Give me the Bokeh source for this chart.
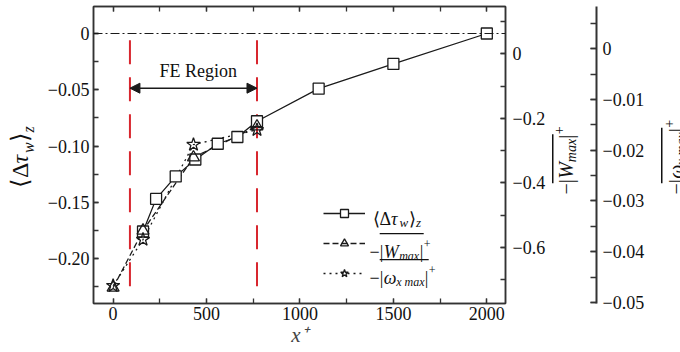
import numpy as np
from bokeh.plotting import figure
from bokeh.layouts import row
from bokeh.models import (Range1d, LinearAxis, SingleIntervalTicker, CustomJSTickFormatter,
                          Span, Arrow, NormalHead, Label, Legend, LegendItem, BoxAnnotation)
from bokeh.embed import file_html
from bokeh.resources import INLINE
from bokeh.core.properties import value

# spanwise-averaged wall shear stress change
x_tau = [160, 230, 335, 440, 560, 665, 770, 1100, 1500, 2000]
tau = [-0.176, -0.147, -0.127, -0.112, -0.098, -0.092, -0.078, -0.049, -0.027, 0.0]
# peak spanwise velocity
x_w = [0, 160, 430, 770]
w_max = [-0.725, -0.548, -0.321, -0.225]
# peak streamwise vorticity
x_om = [0, 160, 430, 770]
om_max = [-0.0467, -0.0376, -0.0189, -0.016]
# extent of the FE region
fe_bounds = [90, 770]

SERIF = "Liberation Serif"
INK = "#1a1a1a"
TXT = "#111111"
RED = "#d8262e"
H = 352
TOP, BOT = 6, 303          # frame top / bottom (canvas px)
MID = 0.3375               # baseline-to-middle distance, in em

# column widths of the strip: left title | main plot | W title + omega axis | omega title
W_L, W_M, W_B, W_C = 40, 508, 102, 30
X_M, X_B, X_C = W_L, W_L + W_M, W_L + W_M + W_B


def blank(width, **kw):
    f = figure(width=width, height=H, output_backend="svg", toolbar_location=None,
               x_axis_location=None, y_axis_location=None,
               min_border_top=TOP, min_border_bottom=H - BOT, **kw)
    f.xgrid.visible = False
    f.ygrid.visible = False
    f.outline_line_color = None
    f.background_fill_color = "white"
    f.border_fill_color = "white"
    return f


def fmt(digits):
    return CustomJSTickFormatter(code=f"""
        if (Math.abs(tick) < 1e-9) return "0";
        return (tick < 0 ? "\\u2212" : "") + Math.abs(tick).toFixed({digits});
    """)


def style(ax, inward=5):
    ax.axis_line_color = "#333333"
    ax.axis_line_width = 1.5
    ax.major_tick_line_color = "#333333"
    ax.minor_tick_line_color = "#333333"
    ax.major_tick_line_width = 1.3
    ax.minor_tick_line_width = 1.3
    ax.major_tick_in = inward
    ax.major_tick_out = 0
    ax.minor_tick_in = inward
    ax.minor_tick_out = 0
    ax.major_label_text_font = SERIF
    ax.major_label_text_font_size = "18px"
    ax.major_label_text_color = TXT


def compose(fig, fl, pieces, xc, yc, rotated):
    """Lay out a run of text pieces (with sub/superscripts) whose baseline starts at
    canvas point (xc, yc); rotated runs read bottom to top."""
    pos = 0.0
    for text, size, italic, shift, adv in pieces:
        if rotated:
            x = xc + shift - MID * size - fl
            y = BOT - (yc - pos)
            kw = dict(angle=np.pi / 2, text_baseline="middle")
        else:
            x = xc + pos - fl
            y = BOT - (yc + shift)
            kw = dict(angle=0.0, text_baseline="alphabetic")
        fig.add_layout(Label(x=x, y=y, x_units="screen", y_units="screen", text=text,
                             text_font=SERIF, text_font_size=f"{size}px",
                             text_font_style="italic" if italic else "normal",
                             text_color=TXT, text_align="left", **kw))
        pos += adv


def bar(fig, fl, x0c, x1c, y0c, y1c):
    """Overline as a thin filled box, given in canvas pixels."""
    fig.add_layout(BoxAnnotation(left=x0c - fl, right=x1c - fl, bottom=BOT - y1c, top=BOT - y0c,
                                 left_units="screen", right_units="screen",
                                 bottom_units="screen", top_units="screen",
                                 fill_color=TXT, fill_alpha=1, line_alpha=0))


# ---------------------------------------------------------------- main plot
FL = 93
p = figure(width=W_M, height=H, x_range=Range1d(-105, 2100), y_range=Range1d(-0.24, 0.024),
           output_backend="svg", toolbar_location=None,
           min_border_left=FL - X_M, min_border_right=42, min_border_top=TOP,
           min_border_bottom=H - BOT)
p.extra_y_ranges = {"w": Range1d(-0.774, 0.147), "om": Range1d(-0.0502, 0.0083)}
p.xgrid.visible = False
p.ygrid.visible = False
p.outline_line_color = "#333333"
p.outline_line_width = 1.5
p.background_fill_color = "white"
p.border_fill_color = "white"

xa = p.xaxis[0]
xa.ticker = SingleIntervalTicker(interval=500, num_minor_ticks=2)
style(xa)
xa.major_label_standoff = 3
xa.axis_label = "x⁺"
xa.axis_label_text_font = SERIF
xa.axis_label_text_font_style = "italic"
xa.axis_label_text_font_size = "21px"
xa.axis_label_standoff = 0

# mirrored tick marks along the top edge, without labels
xt = LinearAxis(ticker=SingleIntervalTicker(interval=500, num_minor_ticks=2))
style(xt)
xt.major_label_text_font_size = "1px"
xt.major_label_text_color = None
xt.major_label_standoff = 0
p.add_layout(xt, "above")

ya = p.yaxis[0]
ya.ticker = SingleIntervalTicker(interval=0.05, num_minor_ticks=2)
ya.formatter = fmt(2)
style(ya)
ya.major_label_standoff = 4

wa = LinearAxis(y_range_name="w", ticker=SingleIntervalTicker(interval=0.2, num_minor_ticks=2),
                formatter=fmt(1))
style(wa)
wa.major_label_standoff = 7
p.add_layout(wa, "right")

# reference line at zero
p.add_layout(Span(location=0, dimension="width", line_color=INK, line_width=1.2,
                  line_dash="9 3 2 3"))

# FE region bounds
p.segment(x0=fe_bounds, y0=-0.006, x1=fe_bounds, y1=-0.231, line_color=RED,
          line_width=2, line_dash="24 13")
p.add_layout(Arrow(x_start=fe_bounds[0], x_end=fe_bounds[1], y_start=-0.0486, y_end=-0.0486,
                   line_color=INK, line_width=1.5,
                   start=NormalHead(size=10, fill_color=INK, line_color=INK),
                   end=NormalHead(size=10, fill_color=INK, line_color=INK)))
p.add_layout(Label(x=455, y=-0.033, text="FE Region", text_align="center",
                   text_baseline="middle", text_font=SERIF, text_font_size="18px",
                   text_color=TXT))

# data series
r_tau_l = p.line(x_tau, tau, line_color=INK, line_width=1.3)
r_w_l = p.line(x_w, w_max, y_range_name="w", line_color=INK, line_width=1.3, line_dash="6 3")
r_om_l = p.line(x_om, om_max, y_range_name="om", line_color=INK, line_width=1.3, line_dash="2 4")
r_tau_m = p.scatter(x_tau, tau, marker="square", size=11, fill_color="white",
                    line_color=INK, line_width=1.3)
r_w_m = p.scatter(x_w, w_max, y_range_name="w", marker="triangle", size=12, fill_alpha=0,
                  line_color=INK, line_width=1.3)
r_om_m = p.scatter(x_om, om_max, y_range_name="om", marker="star", size=14, fill_alpha=0,
                   line_color=INK, line_width=1.3)

# legend keys; the rich-text entries are set beside them below
legend = Legend(items=[LegendItem(label=value(" "), renderers=[r_tau_l, r_tau_m]),
                       LegendItem(label=value(" "), renderers=[r_w_l, r_w_m]),
                       LegendItem(label=value(" "), renderers=[r_om_l, r_om_m])],
                location=(230, 20), glyph_width=42, glyph_height=20, spacing=10,
                padding=0, margin=0, border_line_alpha=0, background_fill_alpha=0,
                label_text_font_size="1px", label_text_color=None,
                label_standoff=0, label_width=0, label_height=0)
p.add_layout(legend)

compose(p, FL, [("⟨", 18, False, 0, 7), ("Δ", 18, False, 0, 11.5), ("τ", 18, True, 0, 8.5),
                ("w", 13, True, 4, 9.5), ("⟩", 18, False, 0, 7), ("z", 13, True, 4, 5)],
        372, 218, False)
compose(p, FL, [("−", 18, False, 0, 10.2), ("|", 18, False, 0, 4), ("W", 18, True, 0, 15.5),
                ("max", 12, True, 4, 20.5), ("|", 18, False, 0, 4), ("+", 12, False, -8, 8)],
        369, 251, False)
bar(p, FL, 379.2, 423.2, 232.5, 233.7)
compose(p, FL, [("−", 18, False, 0, 10.2), ("|", 18, False, 0, 4), ("ω", 18, True, 0, 12.5),
                ("x max", 12, True, 4, 28.5), ("|", 18, False, 0, 4), ("+", 12, False, -8, 8)],
        369, 277, False)
bar(p, FL, 379.2, 428.2, 258.5, 259.7)

# ---------------------------------------------------------------- left title
fl_ = blank(W_L, x_range=Range1d(0, 1), y_range=Range1d(0, 1),
            min_border_left=0, min_border_right=0)
compose(fl_, 0, [("⟨", 24, False, 0, 9.4), ("Δ", 24, False, 0, 14.7), ("τ", 24, True, 0, 10.5),
                 ("w", 16, True, 5, 11), ("⟩", 24, False, 0, 9.4), ("z", 16, True, 5, 6.5)],
        28, 187, True)

# ---------------------------------------------------------------- W title + omega axis
fb_ = blank(W_B, x_range=Range1d(0, 1), y_range=Range1d(-0.0502, 0.0083),
            min_border_left=0, min_border_right=W_B - 48)
oa = LinearAxis(ticker=SingleIntervalTicker(interval=0.01, num_minor_ticks=2), formatter=fmt(2))
style(oa, inward=6)
oa.axis_line_width = 2
oa.major_label_standoff = 6
fb_.add_layout(oa, "right")

compose(fb_, X_B, [("−", 20, False, 0, 11.3), ("|", 20, False, 0, 4.5), ("W", 20, True, 0, 16.5),
                   ("max", 14, True, 4, 23.5), ("|", 20, False, 0, 4.5),
                   ("+", 14, False, -9, 9.5)],
        572, 194, True)
bar(fb_, X_B, 551.5, 553, 194 - 60.3, 194 - 11.3)

# ---------------------------------------------------------------- omega title
fc_ = blank(W_C, x_range=Range1d(0, 1), y_range=Range1d(0, 1),
            min_border_left=0, min_border_right=0)
compose(fc_, X_C, [("−", 20, False, 0, 11.3), ("|", 20, False, 0, 4.5), ("ω", 20, True, 0, 13.5),
                   ("x max", 14, True, 4, 33), ("|", 20, False, 0, 4.5),
                   ("+", 14, False, -9, 9.5)],
        682, 194, True)
bar(fc_, X_C, 660.5, 662, 194 - 66.8, 194 - 11.3)

layout = row(fl_, p, fb_, fc_, spacing=0)
open("out.html", "w").write(file_html(layout, INLINE))
